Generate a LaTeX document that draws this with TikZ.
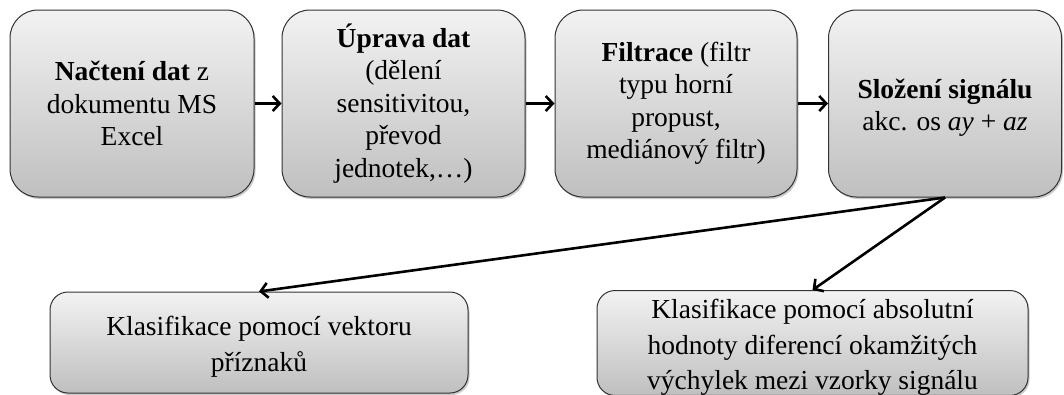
\documentclass[tikz,border=0pt]{standalone}
\usepackage{fontspec}
\setmainfont{Liberation Serif}
\usetikzlibrary{arrows.meta,shadows}
\newcommand{\topstrut}{\rule{0pt}{28pt}}
\begin{document}
\begin{tikzpicture}[x=1pt,y=-1pt,
  box/.style={draw=black!80, line width=1pt, rounded corners=28pt,
    top color=black!5, bottom color=black!25,
    drop shadow={shadow xshift=1.5pt, shadow yshift=-2pt, fill=black!35, opacity=0.6},
    align=center, inner sep=0pt, font=\fontsize{27.5}{32.5}\selectfont},
  lowbox/.style={box, rounded corners=18pt, font=\fontsize{27.5}{35.5}\selectfont},
  conn/.style={line width=2.6pt, -{Straight Barb[length=7pt,width=15pt,line width=2.6pt]}}]
\useasboundingbox (0,0) rectangle (1064,394);
\node[box, minimum width=244pt, minimum height=187pt] (n1) at (132,103.5)
  {\textbf{Načtení dat} z\\dokumentu MS\\Excel};
\node[box, minimum width=243pt, minimum height=187pt] (n2) at (403.5,103.5)
  {\textbf{Úprava dat}\\(dělení\\sensitivitou,\\převod\\jednotek,…)};
\node[box, minimum width=242pt, minimum height=187pt] (n3) at (676,103.5)
  {\textbf{Filtrace} (filtr\\typu horní\\propust,\\mediánový filtr)};
\node[box, minimum width=233pt, minimum height=187pt] (n4) at (945,103.5)
  {\topstrut\textbf{Složení signálu}\\akc. os \textit{ay} + \textit{az}};
\node[lowbox, minimum width=418pt, minimum height=101pt] (b1) at (259,342.5)
  {\topstrut Klasifikace pomocí vektoru\\příznaků};
\node[lowbox, minimum width=431pt, minimum height=100pt] (b2) at (812.5,343)
  {\topstrut Klasifikace pomocí absolutní\\hodnoty diferencí okamžitých\\výchylek mezi vzorky signálu};
\draw[conn] (n1) -- (n2);
\draw[conn] (n2) -- (n3);
\draw[conn] (n3) -- (n4);
\draw[conn] (n4.south) -- (b1.north);
\draw[conn] (n4.south) -- (b2.north);
\end{tikzpicture}
\end{document}
